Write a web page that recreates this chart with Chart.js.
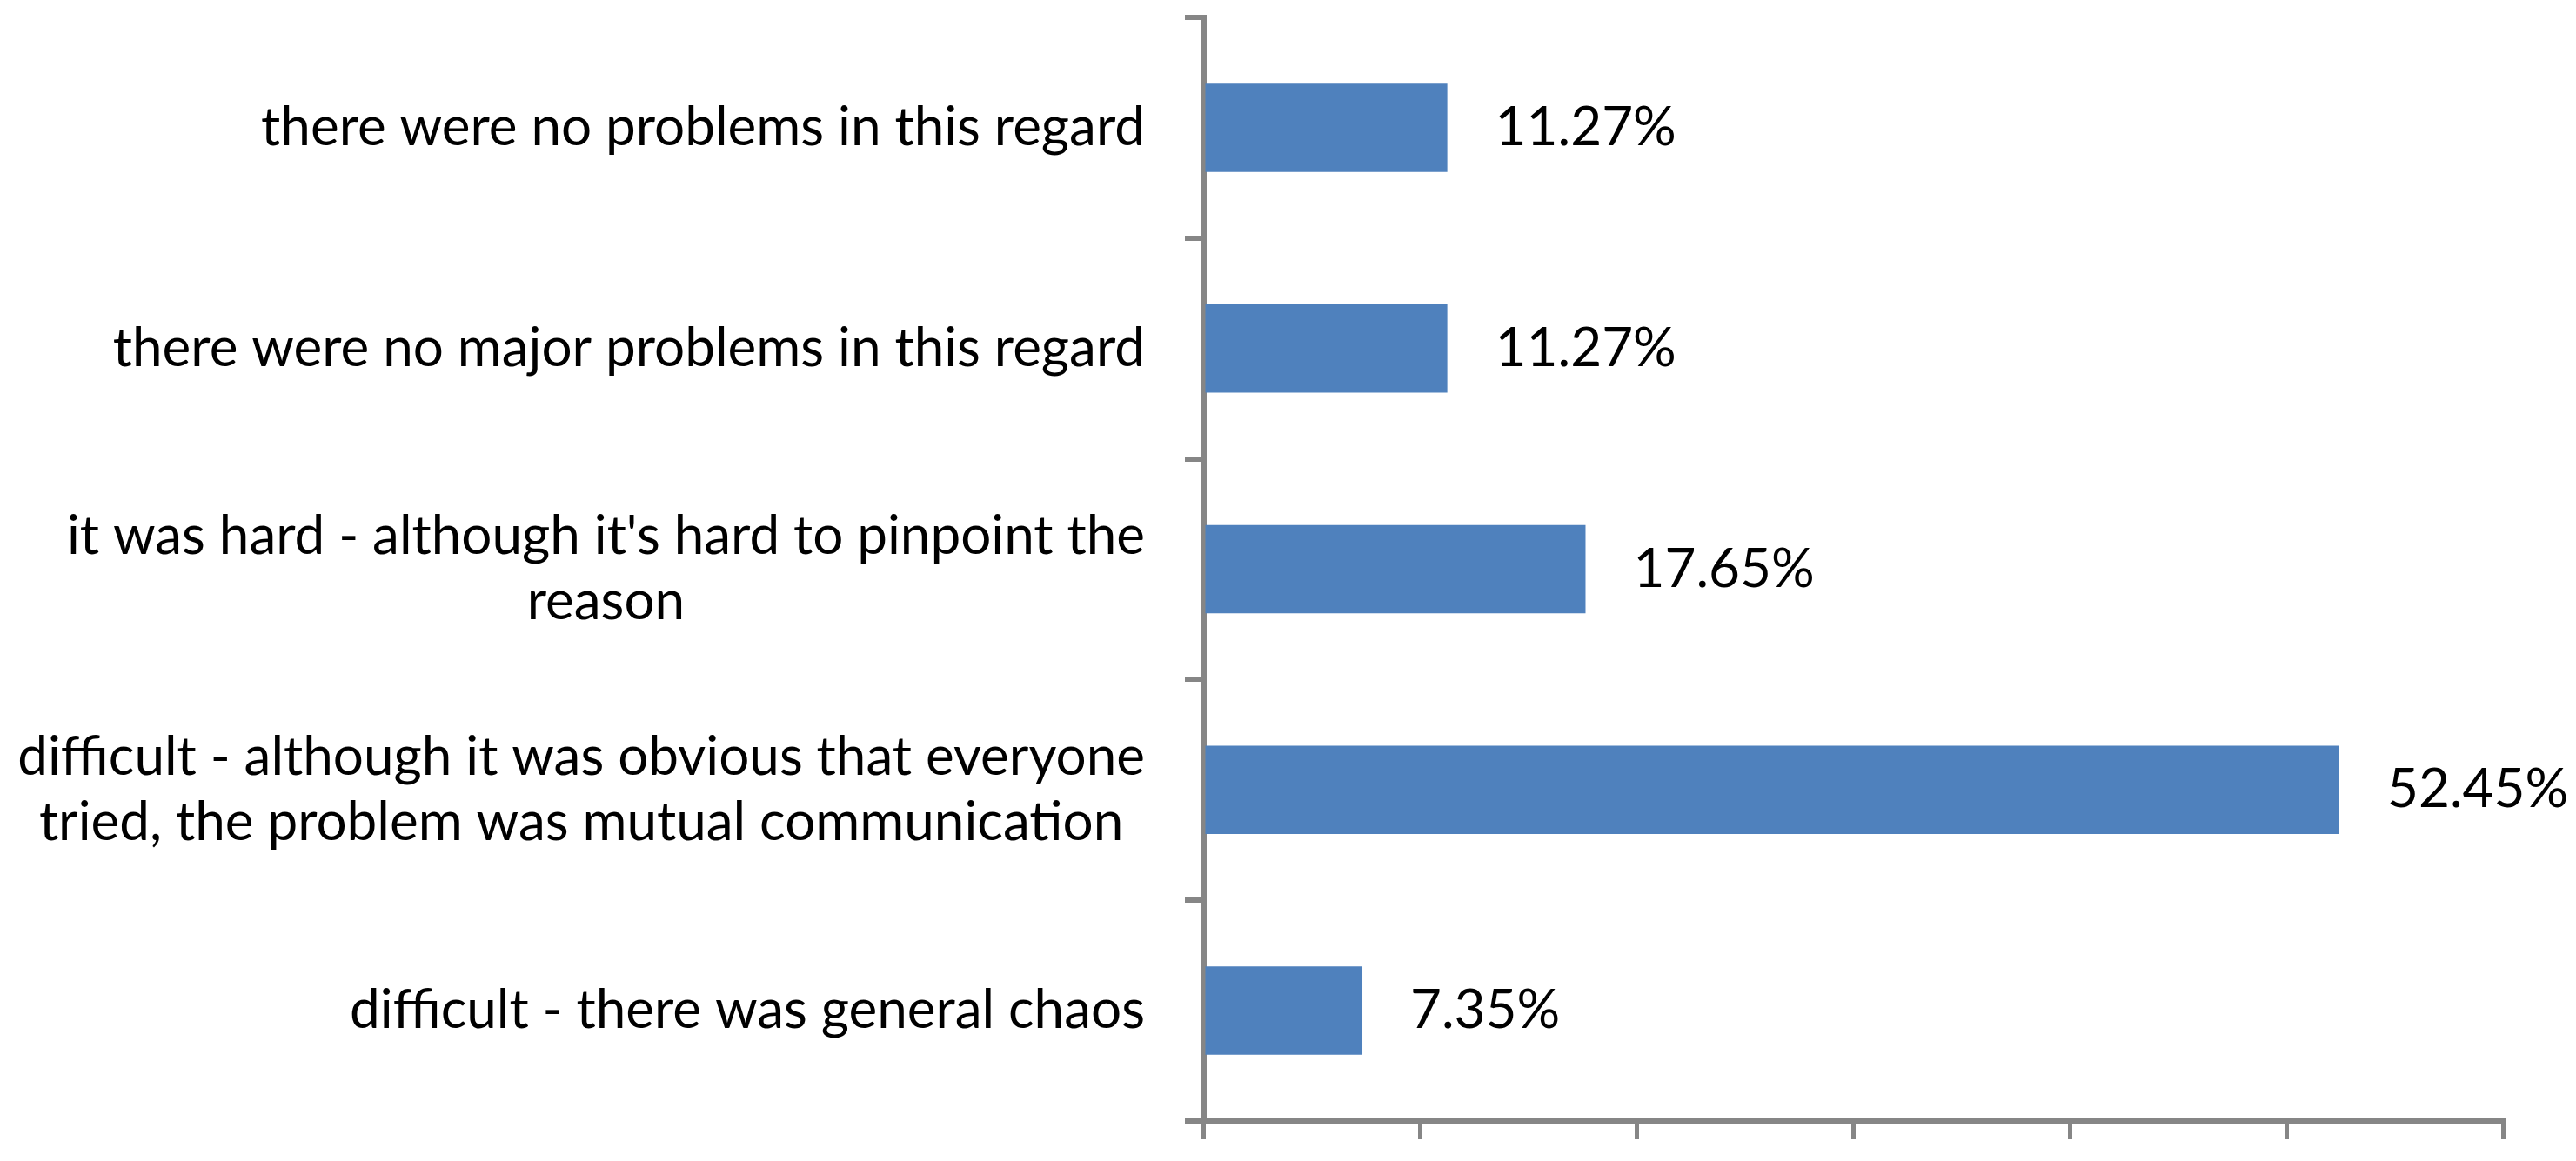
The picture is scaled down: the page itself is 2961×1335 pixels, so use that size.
<!DOCTYPE html>
<html>
<head>
<meta charset="utf-8">
<script src="https://cdn.jsdelivr.net/npm/chart.js@4.4.0/dist/chart.umd.min.js"></script>
<style>
  html, body { margin: 0; padding: 0; background: #ffffff; }
  #wrap { width: 2961px; height: 1335px; position: relative; }
</style>
</head>
<body>
<div id="wrap"><canvas id="chart"></canvas></div>
<script>
// categories, top to bottom (each entry = lines of the label)
const categories = [
  ['there were no problems in this regard'],
  ['there were no major problems in this regard'],
  ["it was hard - although it's hard to pinpoint the", 'reason'],
  ['difficult - although it was obvious that everyone', 'tried, the problem was mutual communication'],
  ['difficult - there was general chaos']
];
const values = [11.27, 11.27, 17.65, 52.45, 7.35];
const valueLabels = ['11.27%', '11.27%', '17.65%', '52.45%', '7.35%'];
const xTicks = [0, 10, 20, 30, 40, 50, 60];

const FONT = "Lato, 'Open Sans', sans-serif";
const FONT_SIZE = 62;
const AXIS_COLOR = '#868686';

// draws the category labels (block right aligned, lines centred) and the value labels
const labelPlugin = {
  id: 'labelPlugin',
  afterDraw(chart) {
    const ctx = chart.ctx;
    const yScale = chart.scales.y;
    const meta = chart.getDatasetMeta(0);
    ctx.save();
    ctx.fillStyle = '#000000';
    ctx.font = FONT_SIZE + 'px ' + FONT;
    ctx.textBaseline = 'middle';
    const rightEdge = chart.chartArea.left - 67;
    const lineHeight = 75;
    categories.forEach((lines, i) => {
      const yc = yScale.getPixelForValue(i);
      const w = Math.max(...lines.map(l => ctx.measureText(l).width));
      const xc = rightEdge - w / 2;
      ctx.textAlign = 'center';
      lines.forEach((line, j) => {
        const y = yc + (j - (lines.length - 1) / 2) * lineHeight;
        ctx.fillText(line, xc, y);
      });
    });
    ctx.textAlign = 'left';
    meta.data.forEach((bar, i) => {
      ctx.fillText(valueLabels[i], bar.x + 55, bar.y);
    });
    ctx.restore();
  }
};

const ctx = document.getElementById('chart').getContext('2d');
new Chart(ctx, {
  type: 'bar',
  data: {
    labels: categories,
    datasets: [{
      data: values,
      backgroundColor: '#4F81BD',
      borderWidth: 0,
      barPercentage: 0.40,
      categoryPercentage: 1.0
    }]
  },
  options: {
    indexAxis: 'y',
    responsive: true,
    maintainAspectRatio: false,
    animation: false,
    devicePixelRatio: 1,
    layout: { padding: { top: 20, right: 84, bottom: 25, left: 0 } },
    plugins: {
      legend: { display: false },
      tooltip: { enabled: false },
      title: { display: false }
    },
    scales: {
      x: {
        type: 'linear',
        min: xTicks[0],
        max: xTicks[xTicks.length - 1],
        afterBuildTicks(scale) {
          scale.ticks = xTicks.map(v => ({ value: v }));
        },
        ticks: { display: false },
        grid: {
          drawOnChartArea: false,
          drawTicks: true,
          tickLength: 21,
          color: AXIS_COLOR,
          lineWidth: 5
        },
        border: { display: true, color: AXIS_COLOR, width: 7 }
      },
      y: {
        type: 'category',
        offset: true,
        ticks: { display: false },
        afterFit(scale) {
          scale.width = 1383;
        },
        grid: {
          offset: true,
          drawOnChartArea: false,
          drawTicks: true,
          tickLength: 21,
          color: AXIS_COLOR,
          lineWidth: 6
        },
        border: { display: true, color: AXIS_COLOR, width: 7 }
      }
    }
  },
  plugins: [labelPlugin]
});
</script>
</body>
</html>
